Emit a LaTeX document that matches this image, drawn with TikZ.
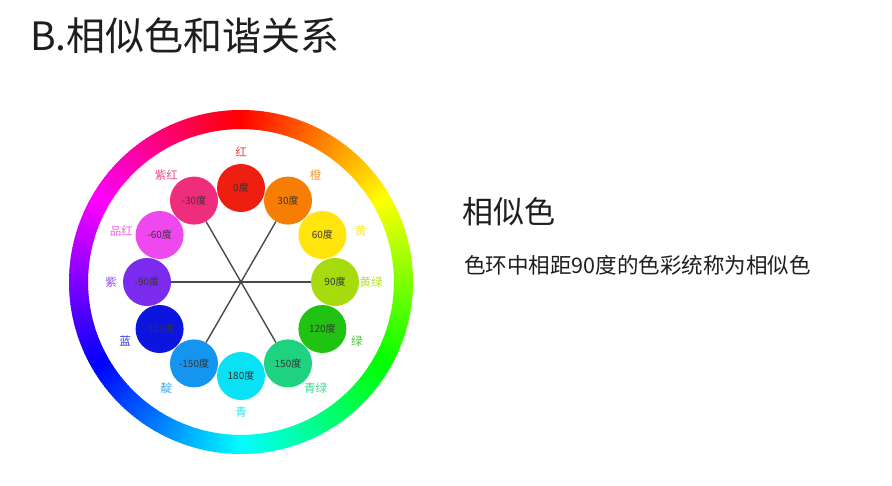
\documentclass[tikz,border=0pt]{standalone}
\usepackage{fontspec}
\setmainfont{Noto Sans CJK SC}
\usepackage{xcolor}
\usetikzlibrary{positioning}
\definecolor{ink}{HTML}{1E1E1E}
\definecolor{spoke}{HTML}{4A4A4A}
\definecolor{hA}{HTML}{EE1E10}
\definecolor{hB}{HTML}{F77E04}
\definecolor{hC}{HTML}{FFE50C}
\definecolor{hD}{HTML}{A6DB0E}
\definecolor{hE}{HTML}{20C312}
\definecolor{hF}{HTML}{1FD27F}
\definecolor{hG}{HTML}{08E2F4}
\definecolor{hH}{HTML}{1496F0}
\definecolor{hI}{HTML}{0C14E0}
\definecolor{hJ}{HTML}{7B2BEE}
\definecolor{hK}{HTML}{EE48EE}
\definecolor{hL}{HTML}{EE2E7C}

\begin{document}
\begin{tikzpicture}[x=1pt,y=1pt,
  hue/.style={circle,minimum size=48pt,inner sep=0pt,font=\fontsize{10}{10}\selectfont,text=ink!90},
  tag/.style={inner sep=0pt,font=\fontsize{11.5}{12}\selectfont}]
  \useasboundingbox[fill=white] (0,0) rectangle (892,-485);
  \node[anchor=west,inner sep=0pt,text=ink,font=\fontsize{39}{42}\selectfont] (title) at (30,-36) {B.相似色和谐关系};
  % colour wheel
  \begin{scope}[shift={(241,-282)}]
    \foreach \i in {0,...,359}{
      \pgfmathsetmacro{\h}{\i/360}
      \definecolor{ringc}{hsb}{\h,1,1}
      \fill[ringc] (90.7-\i:172) arc[start angle=90.7-\i,end angle=89.3-\i,radius=172]
        -- (89.3-\i:153) arc[start angle=89.3-\i,end angle=90.7-\i,radius=153] -- cycle;
    }
    \foreach \a/\b/\nm/\txt/\lab/\col in {0/0/c0/0度/红/hA,30/35/c30/30度/橙/hB,60/67/c60/60度/黄/hC,
        90/90/c90/90度/黄绿/hD,120/117/c120/120度/绿/hE,150/145/c150/150度/青绿/hF,
        180/180/c180/180度/青/hG,-150/-145/cm150/-150度/靛/hH,-120/-117/cm120/-120度/蓝/hI,
        -90/-90/cm90/-90度/紫/hJ,-60/-67/cm60/-60度/品红/hK,-30/-35/cm30/-30度/紫红/hL}{
      \node[hue,fill=\col] (\nm) at (90-\a:94) {\txt};
      \node[tag,text=\col!85!white] (t\nm) at (90-\b:130) {\lab};
    }
  \end{scope}
  \draw[spoke,line width=1.4pt] (cm30) -- (c150);
  \draw[spoke,line width=1.4pt] (c30) -- (cm150);
  \draw[spoke,line width=1.4pt] (cm90) -- (c90);
  % text on the right
  \node[anchor=west,inner sep=0pt,text=ink,font=\fontsize{31}{34}\selectfont] (sub) at (462,-212) {相似色};
  \node[anchor=west,inner sep=0pt,text=ink,font=\fontsize{21.5}{24}\selectfont] (desc) at (464,-265) {色环中相距90度的色彩统称为相似色};
\end{tikzpicture}
\end{document}
